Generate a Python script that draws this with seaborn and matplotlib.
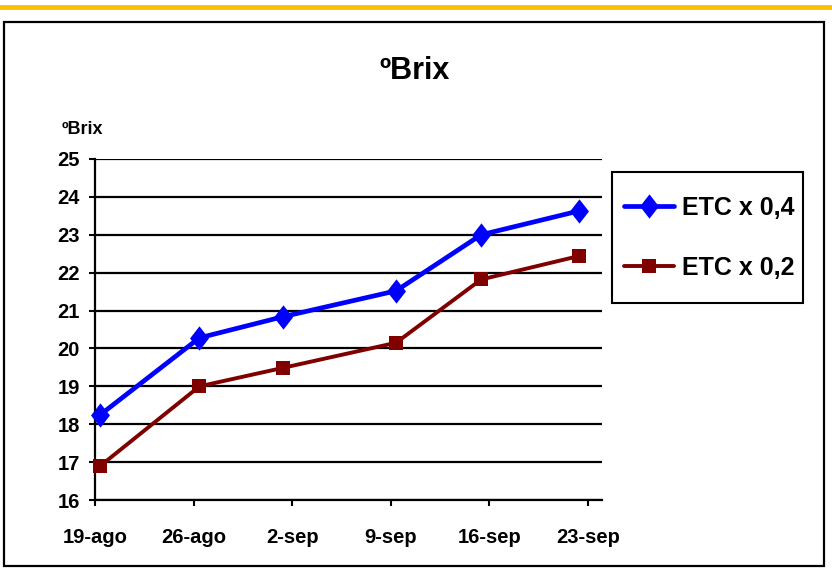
import matplotlib
matplotlib.use("Agg")
import matplotlib.pyplot as plt
import matplotlib.font_manager as fm
from matplotlib.path import Path
from matplotlib.patches import Rectangle
from matplotlib.lines import Line2D
import pandas as pd
import seaborn as sns

# Sampling times (morning samples) and soluble solids readings
sample_times = ["2008-08-19 09:00", "2008-08-26 10:00", "2008-09-01 09:00",
                "2008-09-09 09:00", "2008-09-15 10:00", "2008-09-22 09:00"]
brix_etc04 = [18.25, 20.28, 20.84, 21.52, 23.00, 23.63]
brix_etc02 = [16.90, 19.00, 19.49, 20.15, 21.82, 22.44]
series_names = ["ETC x 0,4", "ETC x 0,2"]

tick_dates = ["2008-08-19", "2008-08-26", "2008-09-02",
              "2008-09-09", "2008-09-16", "2008-09-23"]
tick_labels = ["19-ago", "26-ago", "2-sep", "9-sep", "16-sep", "23-sep"]
y_ticks = list(range(16, 26))

sns.set_theme(style="white")
names = {f.name for f in fm.fontManager.ttflist}
family = ["Liberation Sans Narrow", "Liberation Sans", "DejaVu Sans"]
family = [f for f in family if f in names] or ["DejaVu Sans"]
plt.rcParams["font.family"] = family
plt.rcParams["font.weight"] = "bold"
for key in ("text.color", "axes.labelcolor", "xtick.color", "ytick.color"):
    plt.rcParams[key] = "black"

df = pd.DataFrame({
    "time": pd.to_datetime(sample_times * 2),
    "brix": brix_etc04 + brix_etc02,
    "serie": [series_names[0]] * 6 + [series_names[1]] * 6,
})

W, H = 832, 577
fig = plt.figure(figsize=(W / 100, H / 100), dpi=100)
ax = fig.add_axes([95 / W, 1 - 500 / H, (602 - 95) / W, (500 - 159) / H])

diamond = Path([(0, 1), (0.78, 0), (0, -1), (-0.78, 0), (0, 1)],
               [Path.MOVETO, Path.LINETO, Path.LINETO, Path.LINETO, Path.CLOSEPOLY])

styles = {
    series_names[0]: dict(color="#0000FF", marker=diamond, markersize=17.5, linewidth=3.4),
    series_names[1]: dict(color="#800000", marker="s", markersize=10.5, linewidth=2.8),
}
for name in series_names:
    st = styles[name]
    sns.lineplot(data=df[df["serie"] == name], x="time", y="brix", ax=ax,
                 color=st["color"], marker=st["marker"], markersize=st["markersize"],
                 linewidth=st["linewidth"], markeredgewidth=0, label=name,
                 clip_on=False, zorder=5)

ax.set_ylim(16, 25)
ax.set_yticks(y_ticks)
ax.set_xlim(pd.Timestamp("2008-08-19"), pd.Timestamp("2008-09-24"))
ax.set_xticks(pd.to_datetime(tick_dates))
ax.set_xticklabels(tick_labels)
ax.set_xlabel("")
ax.set_ylabel("")

ax.yaxis.grid(True, color="black", linewidth=1.6)
ax.xaxis.grid(False)
ax.set_axisbelow(True)
for side in ("top", "right"):
    ax.spines[side].set_visible(False)
for side in ("left", "bottom"):
    ax.spines[side].set_color("black")
    ax.spines[side].set_linewidth(1.6)

ax.tick_params(axis="y", direction="out", length=4, width=1.5, color="black",
               pad=7, labelsize=14.5, left=True, labelcolor="black")
ax.tick_params(axis="x", direction="out", length=4.5, width=1.5, color="black",
               pad=16, labelsize=14.5, bottom=True, labelcolor="black")
for lbl in ax.get_xticklabels() + ax.get_yticklabels():
    lbl.set_fontweight("bold")

# Legend entries without their own frame; the box is drawn separately
leg = ax.legend(loc="center", bbox_to_anchor=(709 / W, 1 - 238 / H),
                bbox_transform=fig.transFigure, frameon=False,
                prop={"size": 18, "weight": "bold"},
                handlelength=2.0, handletextpad=0.3, borderpad=0.3,
                labelspacing=1.45, borderaxespad=0)
for t in leg.get_texts():
    t.set_color("black")
fig.add_artist(Rectangle((612 / W, 1 - 303 / H), 191 / W, 131 / H,
                         transform=fig.transFigure, fill=False,
                         edgecolor="black", linewidth=1.5))

fig.text(415 / W, 1 - 79 / H, "ºBrix", ha="center", va="baseline",
         fontsize=22, fontweight="bold", color="black")
fig.text(62 / W, 1 - 134 / H, "ºBrix", ha="left", va="baseline",
         fontsize=13, fontweight="bold", color="black")

fig.add_artist(Rectangle((4 / W, 1 - 566 / H), 820 / W, 544 / H,
                         transform=fig.transFigure, fill=False,
                         edgecolor="black", linewidth=1.6))
fig.add_artist(Line2D([0, 1], [1 - 6.5 / H, 1 - 6.5 / H], transform=fig.transFigure,
                      color="#FFC000", linewidth=3.5))

fig.savefig("out.png", dpi=100, facecolor="white")
